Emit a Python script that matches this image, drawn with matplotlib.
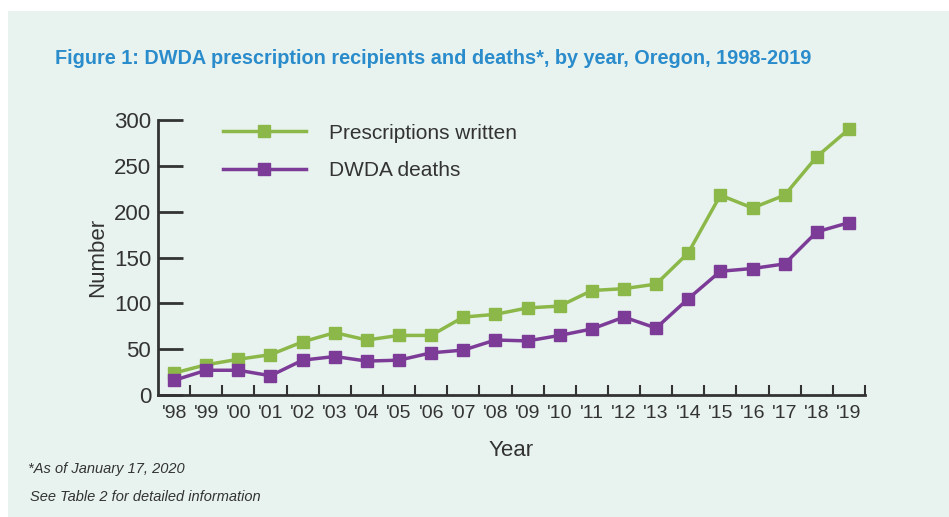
import matplotlib.pyplot as plt
from matplotlib.patches import Rectangle
from matplotlib.ticker import FixedLocator, NullFormatter

years = ["'98", "'99", "'00", "'01", "'02", "'03", "'04", "'05", "'06", "'07", "'08",
         "'09", "'10", "'11", "'12", "'13", "'14", "'15", "'16", "'17", "'18", "'19"]
prescriptions = [24, 33, 39, 44, 58, 68, 60, 65, 65, 85, 88,
                 95, 97, 114, 116, 121, 155, 218, 204, 218, 260, 290]
deaths = [16, 27, 27, 21, 38, 42, 37, 38, 46, 49, 60,
          59, 65, 72, 85, 73, 105, 135, 138, 143, 178, 188]

plt.rcParams['font.family'] = ['Liberation Sans Narrow', 'Liberation Sans', 'DejaVu Sans']

bg = '#e8f3ef'
green = '#8cb84a'
purple = '#7d3b98'
dark = '#333333'

fig = plt.figure(figsize=(9.49, 5.17), dpi=100, facecolor='white')
fig.patches.append(Rectangle((8 / 949, 0), 1, 1 - 11 / 517, transform=fig.transFigure,
                             facecolor=bg, edgecolor='none', zorder=-10))

ax = fig.add_axes([158 / 949, (517 - 395) / 517, (865 - 158) / 949, (395 - 120) / 517])
ax.set_facecolor('none')

x = list(range(len(years)))
ax.plot(x, prescriptions, color=green, lw=2.5, marker='s', ms=9, label='Prescriptions written')
ax.plot(x, deaths, color=purple, lw=2.5, marker='s', ms=9, label='DWDA deaths')

ax.set_xlim(-0.5, len(years) - 0.5)
ax.set_ylim(0, 300)
ax.set_yticks(range(0, 301, 50))
ax.set_xticks(x)
ax.set_xticklabels(years)
ax.xaxis.set_minor_locator(FixedLocator([i + 0.5 for i in x]))
ax.xaxis.set_minor_formatter(NullFormatter())
ax.tick_params(axis='x', which='major', length=0, pad=7, labelsize=14, colors=dark)
ax.tick_params(axis='x', which='minor', direction='in', length=7, width=1.5, color=dark)
ax.tick_params(axis='y', direction='in', length=18, width=2, color=dark, labelsize=16,
               labelcolor=dark, pad=5)

for s in ['top', 'right']:
    ax.spines[s].set_visible(False)
for s in ['left', 'bottom']:
    ax.spines[s].set_color(dark)
    ax.spines[s].set_linewidth(2)

ax.set_ylabel('Number', fontsize=16, color=dark, labelpad=4)
ax.set_xlabel('Year', fontsize=16, color=dark, labelpad=13)

ax.legend(loc='upper left', bbox_to_anchor=(0.065, 1.055), frameon=False, fontsize=15,
          handlelength=4.0, handletextpad=1.1, labelspacing=0.9, labelcolor=dark)

fig.text(55 / 949, 1 - 58 / 517,
         'Figure 1: DWDA prescription recipients and deaths*, by year, Oregon, 1998-2019',
         color='#2b8ccc', fontsize=14.3, fontweight='bold', va='center', ha='left')
fig.text(28 / 949, 1 - 469 / 517, '*As of January 17, 2020', fontsize=10.5, style='italic',
         color=dark, va='center')
fig.text(30 / 949, 1 - 497 / 517, 'See Table 2 for detailed information', fontsize=10.5,
         style='italic', color=dark, va='center')

fig.savefig('out.png', dpi=100, facecolor=fig.get_facecolor())
